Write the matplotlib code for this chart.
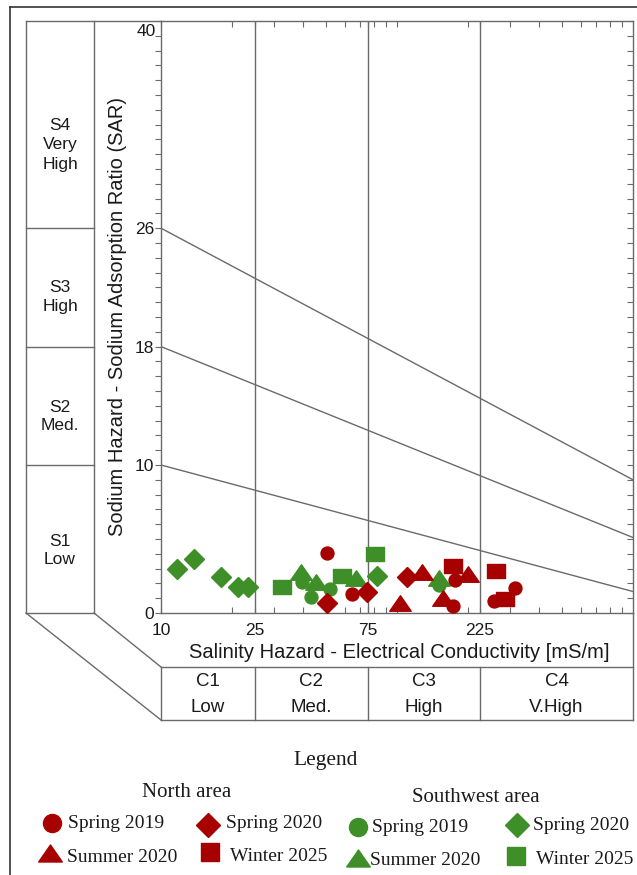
import matplotlib
matplotlib.use('Agg')
import matplotlib.pyplot as plt
import numpy as np
from matplotlib.ticker import NullFormatter, FixedLocator
from matplotlib.path import Path

W, H = 637, 875

# ---------------- data (EC in mS/m, SAR) ----------------
sw_spring2019_ec = [39.7, 43.4, 52.0, 151.3]
sw_spring2019_sar = [2.11, 1.10, 1.62, 1.89]
sw_spring2020_ec = [11.65, 13.83, 17.94, 21.23, 23.26, 81.9]
sw_spring2020_sar = [2.97, 3.65, 2.45, 1.74, 1.78, 2.52]
sw_summer2020_ec = [39.3, 45.5, 67.2, 150.3]
sw_summer2020_sar = [2.75, 2.07, 2.34, 2.34]
sw_winter2025_ec = [32.5, 58.7, 80.3]
sw_winter2025_sar = [1.74, 2.48, 3.99]

n_spring2019_ec = [50.7, 64.7, 176.8, 172.9, 256.6, 317.0]
n_spring2019_sar = [4.03, 1.28, 2.23, 0.49, 0.83, 1.67]
n_spring2020_ec = [50.3, 74.8, 110.4]
n_spring2020_sar = [0.66, 1.44, 2.45]
n_summer2020_ec = [102.5, 127.8, 156.8, 200.0]
n_summer2020_sar = [0.66, 2.75, 0.99, 2.61]
n_winter2025_ec = [172.2, 262.7, 287.7]
n_winter2025_sar = [3.20, 2.84, 0.95]

# class boundaries
ec_bounds = [25, 75, 225]
sar_left = [26, 18, 10]        # hazard lines at EC = 10
sar_right = [9.0, 5.1, 1.45]   # hazard lines at EC = 1000
s_labels = [("S4", "Very", "High"), ("S3", "High"), ("S2", "Med."), ("S1", "Low")]
c_labels = [("C1", "Low"), ("C2", "Med."), ("C3", "High"), ("C4", "V.High")]
x_ticks = [10, 25, 75, 225]
y_ticks = [0, 10, 18, 26, 40]

RED = '#A60000'
GREEN = '#3F8F29'
LINE = '#6a6a6a'
TXT = '#1a1a1a'
SANS = ['Liberation Sans', 'DejaVu Sans']
SERIF = ['Liberation Serif', 'DejaVu Serif']

# custom markers
tri = Path([(-1, -0.72), (1, -0.72), (0, 0.72), (-1, -0.72)],
           [Path.MOVETO, Path.LINETO, Path.LINETO, Path.CLOSEPOLY])
rect = Path([(-1, -0.78), (1, -0.78), (1, 0.78), (-1, 0.78), (-1, -0.78)],
            [Path.MOVETO, Path.LINETO, Path.LINETO, Path.LINETO, Path.CLOSEPOLY])

fig = plt.figure(figsize=(W / 100, H / 100), dpi=100)

# overlay in pixel coordinates for frame / decoration
ov = fig.add_axes([0, 0, 1, 1])
ov.set_xlim(0, W)
ov.set_ylim(H, 0)
ov.axis('off')

X0, X1, Y0, Y1 = 161, 633, 21, 613   # main plot box in pixels
ax = fig.add_axes([X0 / W, 1 - Y1 / H, (X1 - X0) / W, (Y1 - Y0) / H])
ax.set_facecolor('none')
ax.set_xscale('log')
ax.set_xlim(10, 1000)
ax.set_ylim(0, 40)


def px_x(ec):
    return X0 + (X1 - X0) * np.log10(ec / 10.0) / 2.0


def px_y(sar):
    return Y1 - (Y1 - Y0) * sar / 40.0


lw = 1.0
# outer frame
ov.plot([10, W], [7, 7], color='#333333', lw=1.2)
ov.plot([10, 10], [7, H], color='#333333', lw=1.2)
# left S boxes
ov.plot([26, X0], [Y0, Y0], color=LINE, lw=lw)
ov.plot([26, 26], [Y0, Y1], color=LINE, lw=lw)
ov.plot([94, 94], [Y0, Y1], color=LINE, lw=lw)
for s in sar_left + [0]:
    ov.plot([26, 94], [px_y(s), px_y(s)], color=LINE, lw=lw)
# perspective diagonals
ov.plot([26, X0], [Y1, 720], color=LINE, lw=lw)
ov.plot([94, X0], [Y1, 667], color=LINE, lw=lw)
# C box
ov.plot([X0, X1], [667, 667], color=LINE, lw=lw)
ov.plot([X0, X1], [720, 720], color=LINE, lw=lw)
ov.plot([X0, X0], [667, 720], color=LINE, lw=lw)
ov.plot([X1, X1], [Y1, 720], color=LINE, lw=lw)
for b in ec_bounds:
    ov.plot([px_x(b), px_x(b)], [667, 720], color=LINE, lw=lw)

# S labels
s_line_y = [[126, 145, 164], [287, 307], [407, 426], [541, 559]]
for lab, ys in zip(s_labels, s_line_y):
    for t, yy in zip(lab, ys):
        ov.text(60, yy, t, ha='center', va='center', fontsize=12.5,
                family=SANS, color=TXT)

# C labels
c_edges = [10] + ec_bounds + [1000]
for i, (c1, c2) in enumerate(c_labels):
    xc = (px_x(c_edges[i]) + px_x(c_edges[i + 1])) / 2
    ov.text(xc, 682, c1, ha='center', va='center', fontsize=13.5, family=SANS, color=TXT)
    ov.text(xc, 708, c2, ha='center', va='center', fontsize=13.5, family=SANS, color=TXT)

# axis labels
ov.text((X0 + X1) / 2 + 2, 652, 'Salinity Hazard - Electrical Conductivity [mS/m]',
        ha='center', va='center', fontsize=14.5, family=SANS, color=TXT)
ov.text(118, 316, 'Sodium Hazard - Sodium Adsorption Ratio (SAR)', rotation=90,
        ha='center', va='center', fontsize=14.5, family=SANS, color=TXT)

# ---------------- main plot ----------------
for b in ec_bounds:
    ax.axvline(b, color=LINE, lw=lw, zorder=1)
for a, b in zip(sar_left, sar_right):
    ax.plot([10, 1000], [a, b], color=LINE, lw=lw, zorder=1)

ms_o, ms_d, ms_t, ms_s = 9.3, 10.6, 15.5, 12.3
ax.plot(sw_winter2025_ec, sw_winter2025_sar, ls='none', marker=rect, ms=ms_s, color=GREEN, mec=GREEN, zorder=3)
ax.plot(sw_summer2020_ec, sw_summer2020_sar, ls='none', marker=tri, ms=ms_t, color=GREEN, mec=GREEN, zorder=3)
ax.plot(sw_spring2020_ec, sw_spring2020_sar, ls='none', marker='D', ms=ms_d, color=GREEN, mec=GREEN, zorder=3)
ax.plot(sw_spring2019_ec, sw_spring2019_sar, ls='none', marker='o', ms=ms_o, color=GREEN, mec=GREEN, zorder=3)
ax.plot(n_summer2020_ec, n_summer2020_sar, ls='none', marker=tri, ms=ms_t, color=RED, mec=RED, zorder=4)
ax.plot(n_winter2025_ec, n_winter2025_sar, ls='none', marker=rect, ms=ms_s, color=RED, mec=RED, zorder=4)
ax.plot(n_spring2020_ec, n_spring2020_sar, ls='none', marker='D', ms=ms_d, color=RED, mec=RED, zorder=4)
ax.plot(n_spring2019_ec, n_spring2019_sar, ls='none', marker='o', ms=ms_o, color=RED, mec=RED, zorder=4)

for sp in ax.spines.values():
    sp.set_color(LINE)
    sp.set_linewidth(lw)

ax.xaxis.set_major_locator(FixedLocator(x_ticks))
ax.set_xticklabels([str(v) for v in x_ticks])
minor_x = [v * d for d in (10, 100) for v in range(1, 10)]
minor_x = [m for m in minor_x if m not in x_ticks and 10 < m < 1000]
ax.xaxis.set_minor_locator(FixedLocator(minor_x))
ax.xaxis.set_minor_formatter(NullFormatter())
ax.tick_params(axis='x', which='both', direction='in', top=True, bottom=True,
               length=4, width=0.8, color=LINE, labelsize=12.5, pad=7.5, labelcolor=TXT)

ax.yaxis.set_major_locator(FixedLocator(y_ticks))
# the top label ("40") is drawn separately, a little below the frame
ax.set_yticklabels([str(v) if v != y_ticks[-1] else '' for v in y_ticks])
ax.yaxis.set_minor_locator(FixedLocator([v for v in range(0, 41) if v not in y_ticks]))
ax.tick_params(axis='y', which='both', direction='out', left=True, right=False,
               length=4, width=0.8, color=LINE, labelsize=12.5, pad=1, labelcolor=TXT)
for lab in ax.get_xticklabels() + ax.get_yticklabels():
    lab.set_family(SANS)
ov.text(X0 - 5, 32, str(y_ticks[-1]), ha='right', va='center', fontsize=12.5,
        family=SANS, color=TXT)

axr = ax.twinx()
axr.set_ylim(0, 40)
axr.yaxis.set_major_locator(FixedLocator(list(range(0, 41))))
axr.tick_params(axis='y', which='both', direction='in', length=4, width=0.8,
                color=LINE, labelright=False)
for sp in axr.spines.values():
    sp.set_visible(False)

# ---------------- legend ----------------
ov.text(326, 765, 'Legend', ha='center', va='baseline', fontsize=15.5, family=SERIF, color=TXT)
ov.text(187, 797, 'North area', ha='center', va='baseline', fontsize=15, family=SERIF, color=TXT)
ov.text(476, 802, 'Southwest area', ha='center', va='baseline', fontsize=15, family=SERIF, color=TXT)

leg_items = [
    (52, 822.5, 'o', 13.0, RED, 68, 828, 'Spring 2019'),
    (208, 824.5, 'D', 12.5, RED, 226, 828, 'Spring 2020'),
    (50, 853, tri, 17.0, RED, 67, 862, 'Summer 2020'),
    (210, 852, 's', 13.5, RED, 230, 861, 'Winter 2025'),
    (358, 827, 'o', 13.0, GREEN, 372, 832, 'Spring 2019'),
    (517, 825, 'D', 12.5, GREEN, 533, 830, 'Spring 2020'),
    (358, 858, tri, 17.0, GREEN, 370, 865, 'Summer 2020'),
    (516, 856, 's', 13.5, GREEN, 536, 864, 'Winter 2025'),
]
for mx, my, mk, msz, col, tx, ty, lab in leg_items:
    ov.plot([mx], [my], ls='none', marker=mk, ms=msz, color=col, mec=col)
    ov.text(tx, ty, lab, ha='left', va='baseline', fontsize=14, family=SERIF, color=TXT)

fig.savefig('out.png', dpi=100)
